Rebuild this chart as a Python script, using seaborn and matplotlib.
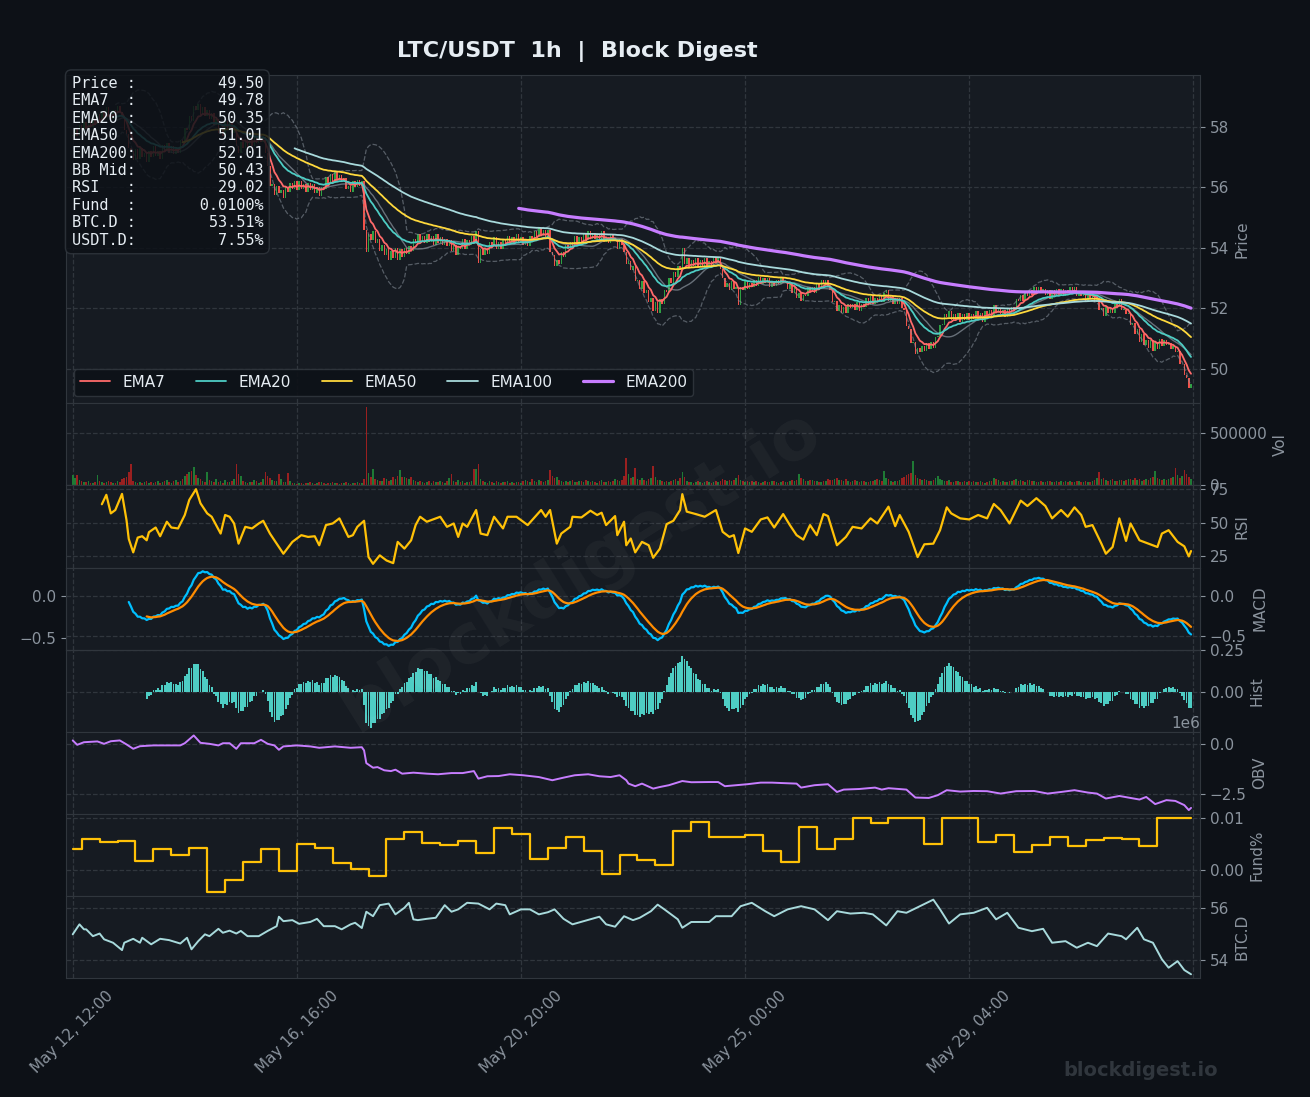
import numpy as np
import pandas as pd
import matplotlib
matplotlib.use("Agg")
import matplotlib.pyplot as plt
import seaborn as sns

# ---------------- data ----------------
start_time = "2025-05-12 12:00"

# hourly closes, 500 candles
close = [
    57.70, 57.95, 57.68, 58.05, 57.90, 58.15, 57.92, 58.20, 58.00, 58.25,
    58.10, 58.42, 58.15, 58.50, 58.30, 58.65, 58.40, 58.25, 58.55, 58.50,
    58.70, 58.50, 58.35, 57.90, 57.75, 57.30, 57.20, 56.90, 57.25, 56.95,
    57.30, 57.00, 57.15, 56.85, 57.20, 57.00, 57.35, 57.05, 57.20, 56.95,
    57.40, 57.20, 57.45, 57.15, 57.35, 57.10, 57.30, 57.15, 57.55, 57.45,
    57.95, 57.90, 58.35, 58.20, 58.70, 58.55, 58.75, 58.40, 58.65, 58.35,
    58.55, 58.25, 58.45, 58.05, 58.25, 57.80, 57.95, 57.70, 58.20, 57.90,
    58.15, 57.80, 57.95, 57.35, 57.15, 57.50, 57.30, 57.60, 57.25, 57.65,
    57.35, 57.70, 57.45, 57.75, 57.50, 57.65, 57.15, 56.70, 56.05, 56.10,
    55.75, 56.05, 55.80, 55.90, 55.65, 56.00, 55.85, 56.15, 55.95, 56.20,
    55.90, 56.20, 55.95, 56.10, 55.85, 56.15, 55.90, 56.10, 55.80, 56.00,
    55.70, 56.00, 55.95, 56.35, 56.10, 56.45, 56.15, 56.50, 56.25, 56.40,
    56.20, 56.30, 55.95, 56.05, 55.85, 56.20, 56.00, 56.25, 56.05, 56.20,
    54.60, 53.85, 54.45, 54.25, 54.55, 54.15, 54.30, 53.90, 54.10, 53.75,
    53.95, 53.60, 53.90, 53.65, 54.00, 53.60, 53.95, 53.70, 54.00, 53.80,
    54.05, 53.90, 54.30, 54.15, 54.45, 54.20, 54.40, 54.15, 54.45, 54.20,
    54.40, 54.10, 54.45, 54.15, 54.35, 54.10, 54.30, 54.05, 54.25, 53.90,
    54.10, 53.75, 54.05, 53.95, 54.30, 53.95, 54.25, 54.10, 54.40, 54.20,
    54.55, 53.50, 53.95, 53.75, 54.00, 53.80, 54.20, 54.05, 54.35, 53.95,
    54.20, 53.95, 54.25, 54.10, 54.40, 54.15, 54.35, 54.15, 54.45, 54.20,
    54.35, 54.10, 54.30, 54.05, 54.40, 54.25, 54.55, 54.35, 54.65, 54.40,
    54.60, 54.35, 54.60, 53.85, 53.75, 53.40, 53.60, 53.45, 53.85, 53.70,
    54.10, 53.95, 54.20, 54.05, 54.40, 54.10, 54.35, 54.20, 54.45, 54.25,
    54.55, 54.30, 54.50, 54.30, 54.45, 54.25, 54.55, 54.20, 54.35, 54.15,
    54.45, 54.25, 54.30, 53.95, 54.30, 54.10, 53.85, 53.45, 53.55, 53.25,
    53.40, 52.90, 52.95, 52.65, 52.90, 52.50, 52.60, 52.20, 52.35, 51.90,
    52.20, 51.85, 52.30, 52.15, 52.60, 52.55, 53.00, 52.85, 53.20, 53.05,
    53.40, 53.30, 54.00, 53.45, 53.65, 53.35, 53.60, 53.40, 53.65, 53.35,
    53.60, 53.40, 53.65, 53.35, 53.55, 53.40, 53.70, 53.50, 53.70, 53.30,
    53.00, 52.70, 52.85, 52.60, 52.90, 52.65, 52.70, 52.10, 52.70, 52.60,
    52.90, 52.65, 52.85, 52.70, 52.95, 52.75, 53.05, 52.80, 53.00, 52.85,
    53.00, 52.70, 52.90, 52.75, 52.95, 52.80, 53.05, 52.85, 52.90, 52.65,
    52.85, 52.50, 52.70, 52.35, 52.50, 52.25, 52.45, 52.40, 52.70, 52.55,
    52.70, 52.50, 52.80, 52.65, 52.95, 52.80, 52.95, 52.75, 52.60, 52.20,
    52.25, 51.90, 52.10, 51.85, 52.05, 51.85, 52.15, 52.00, 52.15, 51.95,
    52.20, 51.90, 52.15, 52.05, 52.35, 52.10, 52.40, 52.15, 52.35, 52.20,
    52.45, 52.20, 52.50, 52.60, 52.25, 52.40, 52.15, 52.35, 52.15, 52.35,
    52.00, 51.95, 51.40, 51.30, 50.85, 50.90, 50.50, 50.70, 50.55, 50.75,
    50.60, 50.85, 50.65, 50.90, 50.70, 51.05, 51.10, 51.45, 51.45, 51.80,
    51.70, 51.90, 51.60, 51.80, 51.60, 51.85, 51.55, 51.80, 51.60, 51.85,
    51.60, 51.80, 51.65, 51.90, 51.60, 51.85, 51.55, 51.90, 51.75, 51.95,
    51.75, 52.10, 51.85, 52.00, 51.80, 51.95, 51.70, 52.00, 51.80, 52.05,
    51.95, 52.30, 52.25, 52.45, 52.25, 52.50, 52.40, 52.60, 52.45, 52.70,
    52.55, 52.70, 52.50, 52.65, 52.45, 52.60, 52.30, 52.60, 52.40, 52.65,
    52.40, 52.65, 52.40, 52.60, 52.50, 52.70, 52.50, 52.70, 52.40, 52.55,
    52.40, 52.55, 52.25, 52.50, 52.35, 52.45, 52.20, 52.35, 51.95, 52.00,
    51.75, 52.05, 51.85, 52.00, 51.85, 52.20, 52.05, 52.30, 51.95, 51.95,
    51.80, 51.85, 51.45, 51.50, 51.15, 51.30, 50.90, 51.15, 50.80, 50.95,
    50.70, 50.95, 50.60, 50.90, 50.65, 51.00, 50.75, 50.95, 50.80, 50.85,
    50.65, 50.75, 50.55, 50.60, 50.15, 50.15, 49.80, 49.70, 49.35, 49.50,
]

# hourly volume, thousands of LTC
volume_k = [
    100, 70, 95, 55, 45, 35, 30, 40, 25, 20, 30, 100, 40, 30, 25, 35, 45, 30, 25, 20,
    40, 30, 60, 75, 80, 125, 205, 40, 30, 25, 35, 20, 30, 45, 25, 30, 20, 35, 40, 25,
    30, 45, 50, 35, 25, 40, 55, 30, 40, 60, 90, 110, 125, 140, 180, 100, 70, 60, 40, 35,
    130, 50, 40, 35, 60, 30, 45, 25, 50, 30, 35, 40, 60, 205, 110, 90, 45, 30, 25, 35,
    30, 55, 40, 25, 35, 60, 125, 90, 70, 50, 45, 40, 110, 60, 35, 30, 120, 45, 25, 20,
    15, 20, 25, 15, 20, 25, 30, 20, 15, 25, 30, 35, 20, 15, 25, 20, 30, 25, 20, 15,
    20, 25, 30, 20, 15, 20, 25, 30, 20, 25, 60, 745, 120, 80, 155, 60, 50, 40, 45, 70,
    60, 45, 55, 80, 65, 90, 150, 85, 80, 75, 60, 85, 55, 45, 30, 40, 35, 25, 30, 40,
    25, 40, 35, 30, 45, 30, 25, 40, 70, 110, 45, 35, 50, 30, 40, 25, 35, 30, 45, 160,
    160, 205, 60, 45, 30, 25, 40, 35, 25, 40, 30, 25, 35, 30, 40, 20, 30, 25, 35, 30,
    25, 40, 55, 45, 30, 60, 45, 35, 50, 40, 30, 45, 55, 150, 90, 70, 85, 50, 40, 35,
    45, 30, 40, 55, 35, 30, 40, 45, 35, 50, 40, 35, 45, 30, 25, 40, 55, 35, 30, 40,
    35, 45, 60, 50, 40, 55, 90, 260, 110, 70, 85, 165, 60, 55, 75, 50, 45, 60, 70, 190,
    80, 55, 50, 45, 35, 40, 30, 45, 50, 60, 45, 70, 130, 85, 40, 30, 35, 25, 30, 40,
    30, 25, 35, 40, 30, 25, 35, 40, 30, 45, 65, 50, 40, 55, 45, 50, 70, 95, 55, 40,
    35, 40, 30, 45, 35, 40, 30, 25, 35, 40, 30, 35, 40, 45, 30, 25, 35, 40, 30, 35,
    40, 55, 45, 50, 110, 70, 60, 45, 40, 55, 50, 45, 40, 35, 30, 40, 45, 60, 50, 55,
    60, 70, 55, 50, 45, 60, 40, 35, 45, 55, 40, 35, 45, 40, 30, 35, 45, 40, 55, 60,
    50, 45, 135, 70, 60, 40, 35, 45, 40, 55, 70, 80, 95, 105, 120, 230, 100, 70, 60, 50,
    65, 55, 45, 40, 50, 70, 90, 65, 55, 45, 40, 50, 35, 30, 45, 40, 30, 35, 40, 30,
    45, 35, 40, 30, 35, 40, 30, 25, 35, 45, 40, 75, 60, 50, 35, 40, 30, 35, 45, 40,
    55, 60, 45, 50, 40, 35, 50, 55, 45, 40, 35, 30, 40, 35, 30, 45, 40, 35, 30, 40,
    35, 40, 30, 45, 35, 40, 30, 35, 40, 45, 30, 35, 40, 30, 35, 45, 50, 70, 130, 60,
    75, 55, 45, 50, 60, 45, 40, 55, 50, 45, 55, 60, 65, 50, 70, 55, 60, 45, 50, 65,
    55, 70, 85, 140, 75, 60, 55, 65, 50, 60, 75, 80, 170, 95, 70, 90, 150, 110, 85, 60,
]

# RSI(14) points (hour index, value)
rsi_hours = [13, 15, 17, 19, 22, 24, 25, 27, 29, 31, 33, 34, 37, 39, 42, 44, 47, 50, 52, 55,
             57, 60, 62, 66, 68, 70, 72, 74, 77, 80, 83, 85, 88, 92, 94, 98, 102, 105, 108, 110,
             113, 116, 119, 123, 125, 127, 130, 132, 134, 137, 140, 143, 145, 148, 151, 153, 155, 158, 162, 164,
             167, 170, 172, 174, 176, 180, 182, 185, 188, 192, 194, 198, 203, 207, 209, 211, 213, 216, 218, 222,
             223, 227, 231, 234, 236, 238, 242, 243, 246, 247, 249, 251, 254, 257, 259, 262, 265, 268, 271, 272,
             274, 278, 282, 287, 290, 293, 295, 297, 300, 303, 307, 310, 313, 317, 320, 323, 326, 329, 332, 335,
             337, 341, 345, 348, 352, 356, 359, 364, 367, 369, 373, 377, 380, 384, 387, 390, 392, 396, 400, 404,
             408, 411, 414, 418, 423, 426, 430, 434, 437, 441, 444, 447, 450, 452, 455, 459, 461, 464, 467, 470,
             472, 476, 480, 484, 486, 489, 493, 496, 498, 499]
rsi_vals = [63.8, 70.8, 57.0, 59.5, 71.5, 52.0, 38.0, 28.0, 39.0, 40.0, 37.0, 43.0, 46.5, 40.0, 50.8, 46.5, 45.8, 55.8, 67.0, 75.0,
            64.5, 57.0, 54.5, 42.0, 55.8, 54.5, 49.5, 34.5, 47.0, 45.8, 49.5, 51.5, 42.0, 32.0, 27.0, 35.8, 40.8, 39.5, 40.0, 33.3,
            48.3, 49.5, 53.3, 39.5, 40.8, 47.0, 51.5, 24.5, 19.5, 25.8, 22.0, 20.0, 35.8, 30.8, 37.0, 48.3, 54.5, 50.8, 53.3, 54.5,
            47.0, 49.5, 39.5, 49.5, 47.0, 59.5, 42.0, 40.8, 54.5, 45.8, 54.5, 54.5, 48.3, 55.8, 59.5, 54.5, 59.5, 34.5, 42.0, 47.0,
            54.5, 54.0, 59.0, 55.8, 57.5, 48.3, 55.0, 40.8, 50.8, 33.3, 38.3, 28.0, 35.8, 33.3, 24.0, 30.8, 49.0, 51.5, 59.5, 71.3,
            58.3, 56.5, 54.5, 59.5, 43.3, 39.5, 40.8, 27.5, 45.8, 43.3, 52.5, 54.0, 46.5, 56.5, 48.3, 40.8, 37.5, 48.3, 40.8, 56.5,
            55.0, 33.3, 39.5, 47.0, 45.8, 53.3, 49.5, 62.0, 47.5, 55.8, 43.3, 24.5, 34.0, 34.5, 44.5, 61.5, 57.0, 53.3, 52.5, 55.8,
            53.3, 64.0, 59.5, 49.5, 66.5, 62.5, 68.3, 62.5, 53.3, 59.5, 54.5, 61.5, 55.8, 47.0, 48.3, 34.5, 27.0, 32.0, 53.3, 36.5,
            49.5, 37.0, 34.5, 32.0, 42.0, 44.5, 35.8, 32.5, 25.0, 29.0]

# OBV points (hour index, millions)
obv_hours = [0, 2, 5, 11, 14, 17, 21, 24, 27, 30, 36, 43, 48, 50, 54, 57, 61, 65, 67, 70,
             73, 75, 81, 84, 87, 90, 92, 94, 100, 106, 110, 117, 124, 129, 130, 131, 134, 136, 139, 142,
             144, 147, 152, 158, 163, 169, 174, 179, 181, 185, 190, 195, 201, 208, 214, 219, 224, 230, 235, 240,
             244, 247, 248, 251, 254, 259, 262, 266, 272, 276, 284, 288, 291, 296, 301, 307, 312, 316, 323, 325,
             331, 337, 341, 344, 351, 358, 361, 364, 372, 376, 382, 386, 390, 396, 402, 408, 414, 421, 429, 435,
             441, 447, 453, 457, 461, 467, 472, 476, 479, 483, 488, 492, 496, 498, 499]
obv_m = [0.17, -0.05, 0.08, 0.12, 0.00, 0.13, 0.17, -0.03, -0.25, -0.12, -0.08, -0.08, -0.08, 0.03, 0.42, 0.05, 0.00, -0.08, 0.03, 0.03,
         -0.25, 0.03, 0.03, 0.20, 0.00, -0.08, -0.30, -0.13, -0.08, -0.13, -0.20, -0.13, -0.20, -0.17, -0.33, -0.97, -1.20, -1.17, -1.33, -1.37,
         -1.30, -1.50, -1.45, -1.50, -1.53, -1.47, -1.47, -1.37, -1.75, -1.63, -1.62, -1.53, -1.58, -1.67, -1.83, -1.70, -1.58, -1.53, -1.63, -1.67,
         -1.58, -1.83, -2.00, -2.13, -2.00, -2.25, -2.17, -2.08, -1.87, -1.93, -1.92, -1.92, -2.13, -2.08, -2.03, -1.95, -1.95, -1.97, -2.00, -2.20,
         -2.08, -2.03, -2.42, -2.30, -2.27, -2.20, -2.30, -2.23, -2.30, -2.70, -2.72, -2.58, -2.33, -2.40, -2.37, -2.38, -2.50, -2.38, -2.37, -2.50,
         -2.42, -2.33, -2.45, -2.50, -2.75, -2.62, -2.72, -2.80, -2.67, -3.03, -2.83, -2.87, -3.08, -3.33, -3.22]

# BTC dominance points (hour index, %)
btcd_hours = [0, 3, 5, 6, 9, 12, 14, 18, 22, 23, 27, 30, 31, 35, 39, 43, 48, 51, 53, 56,
              59, 61, 65, 67, 70, 73, 75, 78, 83, 87, 91, 92, 94, 98, 101, 106, 109, 112, 117, 120,
              124, 126, 129, 131, 134, 137, 141, 144, 148, 150, 152, 154, 158, 162, 166, 169, 172, 176, 181, 186,
              189, 193, 195, 200, 204, 208, 212, 215, 219, 223, 228, 231, 235, 238, 242, 246, 250, 253, 258, 261,
              264, 270, 272, 276, 284, 287, 294, 298, 303, 309, 313, 319, 325, 331, 337, 341, 347, 353, 357, 363,
              368, 372, 378, 384, 387, 391, 396, 402, 408, 412, 417, 422, 428, 433, 437, 443, 448, 453, 457, 462,
              468, 470, 475, 478, 482, 486, 489, 493, 496, 499]
btcd_vals = [54.99, 55.37, 55.18, 55.18, 54.92, 55.02, 54.80, 54.67, 54.39, 54.67, 54.82, 54.67, 54.86, 54.61, 54.82, 54.77, 54.64, 54.86, 54.42, 54.73,
             54.99, 54.92, 55.20, 55.05, 55.13, 55.02, 55.12, 54.92, 54.92, 55.12, 55.30, 55.66, 55.49, 55.53, 55.39, 55.46, 55.58, 55.30, 55.30, 55.18,
             55.37, 55.43, 55.23, 55.85, 55.68, 56.10, 56.16, 55.75, 56.00, 56.19, 55.56, 55.53, 55.58, 55.62, 56.10, 55.85, 55.94, 56.19, 56.16, 55.94,
             56.16, 56.10, 55.75, 55.94, 55.94, 55.75, 55.83, 55.94, 55.58, 55.37, 55.49, 55.56, 55.66, 55.37, 55.28, 55.68, 55.53, 55.62, 55.87, 56.12,
             55.94, 55.56, 55.24, 55.46, 55.46, 55.68, 55.68, 56.06, 56.19, 55.87, 55.68, 55.94, 56.06, 55.94, 55.53, 55.87, 55.78, 55.81, 55.75, 55.33,
             55.87, 55.81, 56.06, 56.31, 55.94, 55.40, 55.75, 55.81, 56.00, 55.56, 55.81, 55.24, 55.11, 55.20, 54.67, 54.73, 54.48, 54.67, 54.54, 55.02,
             54.92, 54.80, 55.24, 54.80, 54.67, 54.04, 53.72, 53.97, 53.63, 53.47]

# funding rate (%), stepping every 8h (first value holds until hour 4)
fund_hours = [0] + list(range(4, 500, 8)) + [499]
fund_vals = [0.0040,
             0.0059, 0.0054, 0.0055, 0.0017, 0.0040, 0.0029, 0.0042, -0.0043, -0.0019, 0.0015,
             0.0040, -0.0003, 0.0050, 0.0041, 0.0012, 0.0001, -0.0012, 0.0059, 0.0072, 0.0052,
             0.0048, 0.0056, 0.0033, 0.0080, 0.0069, 0.0020, 0.0041, 0.0062, 0.0036, -0.0008,
             0.0029, 0.0019, 0.0010, 0.0075, 0.0091, 0.0063, 0.0063, 0.0066, 0.0035, 0.0014,
             0.0081, 0.0040, 0.0059, 0.0100, 0.0089, 0.0099, 0.0100, 0.0050, 0.0100, 0.0100,
             0.0053, 0.0067, 0.0034, 0.0048, 0.0063, 0.0045, 0.0057, 0.0061, 0.0058, 0.0045,
             0.0100, 0.0100,
             0.0100]

info_keys = ["Price", "EMA7", "EMA20", "EMA50", "EMA200", "BB Mid", "RSI", "Fund", "BTC.D", "USDT.D"]
info_vals = ["49.50", "49.78", "50.35", "51.01", "52.01", "50.43", "29.02", "0.0100%", "53.51%", "7.55%"]

# ---------------- colours ----------------
BG = "#0d1117"
PANEL = "#161b22"
EDGE = "#30363d"
TEXT = "#e6edf3"
DIM = "#8b949e"
UP = "#2ea043"
DOWN = "#f0524a"
VOL_UP = "#1f7a35"
VOL_DOWN = "#9a2020"
ema_colors = {"EMA7": "#ff6b6b", "EMA20": "#4ecdc4", "EMA50": "#ffd93d",
              "EMA100": "#a8dadc", "EMA200": "#c77dff"}

sns.set_style("dark", {"axes.facecolor": PANEL, "figure.facecolor": BG})

# ---------------- derived series ----------------
n = len(close)
hours = np.arange(n)
c = pd.Series(close, dtype=float)
opens = c.shift(1).fillna(c.iloc[0])
up = (c >= opens).values
vol = np.array(volume_k) * 1000

emas = {}
for span in [7, 20, 50, 100, 200]:
    emas[f"EMA{span}"] = c.ewm(span=span, min_periods=span).mean()
bb_mid = c.rolling(20).mean()
bb_std = c.rolling(20).std()
bb_up = bb_mid + 2 * bb_std
bb_lo = bb_mid - 2 * bb_std

ema12 = c.ewm(span=12, min_periods=12).mean()
ema26 = c.ewm(span=26, min_periods=26).mean()
macd = ema12 - ema26
signal = macd.ewm(span=9, min_periods=9).mean()
hist = macd - signal

times = pd.date_range(start_time, periods=n, freq="h")

# ---------------- figure ----------------
fig = plt.figure(figsize=(13.1, 10.97), dpi=100)
fig.patch.set_facecolor(BG)
gs = fig.add_gridspec(8, 1, height_ratios=[4, 1, 1, 1, 1, 1, 1, 1], hspace=0,
                      left=66 / 1310, right=1200 / 1310,
                      top=1 - 75 / 1097, bottom=1 - 978 / 1097)
axes = [fig.add_subplot(gs[0])]
for i in range(1, 8):
    axes.append(fig.add_subplot(gs[i], sharex=axes[0]))
ax_p, ax_v, ax_r, ax_m, ax_h, ax_o, ax_f, ax_b = axes

# MACD panel also carries a left-hand scale
ax_m2 = ax_m.twinx()

for ax in axes:
    ax.set_facecolor(PANEL)
    ax.grid(True, color=EDGE, linestyle="--", linewidth=0.9)
    ax.yaxis.tick_right()
    ax.yaxis.set_label_position("right")
    ax.tick_params(axis="both", colors=DIM, labelsize=11)
    ax.tick_params(axis="x", labelbottom=False, length=0)
    for s in ax.spines.values():
        s.set_color(EDGE)

# price panel: candles, bollinger bands, emas
ax_p.use_sticky_edges = False
body_lo = np.minimum(opens.values, c.values)
body_h = np.maximum(np.abs(c.values - opens.values), 0.02)
ax_p.bar(hours, body_h, bottom=body_lo, width=0.65,
         color=np.where(up, UP, DOWN), linewidth=0, zorder=2)
ax_p.plot(hours, bb_up, color=DIM, lw=0.9, ls="--", alpha=0.55, zorder=3)
ax_p.plot(hours, bb_lo, color=DIM, lw=0.9, ls="--", alpha=0.55, zorder=3)
ax_p.plot(hours, bb_mid, color=DIM, lw=1.0, alpha=0.7, zorder=3)
for name, series in emas.items():
    d = pd.DataFrame({"h": hours, "v": series}).dropna()
    sns.lineplot(data=d, x="h", y="v", ax=ax_p, color=ema_colors[name],
                 lw=2.3 if name == "EMA200" else 1.3, label=name, zorder=4)
ax_p.set_xlabel("")
ax_p.set_ylabel("Price", color=DIM, fontsize=11)
ax_p.legend(loc="lower left", ncol=5, fontsize=11, facecolor=BG,
            edgecolor=EDGE, framealpha=0.9, labelcolor=TEXT)

# volume
ax_v.bar(hours, vol, width=0.7, color=np.where(up, VOL_UP, VOL_DOWN), linewidth=0)
ax_v.set_ylabel("Vol", color=DIM, fontsize=11)

# RSI
sns.lineplot(x=rsi_hours, y=rsi_vals, ax=ax_r, color="#ffc107", lw=1.6)
ax_r.set_ylabel("RSI", color=DIM, fontsize=11)

# MACD
dm = pd.DataFrame({"h": hours, "macd": macd, "sig": signal}).dropna(subset=["macd"])
sns.lineplot(data=dm, x="h", y="macd", ax=ax_m, color="#00bfff", lw=1.6)
ds = dm.dropna(subset=["sig"])
sns.lineplot(data=ds, x="h", y="sig", ax=ax_m, color="#ff8c00", lw=1.6)
ax_m.set_ylabel("MACD", color=DIM, fontsize=11)
ax_m2.yaxis.tick_left()
ax_m2.set_ylim(-0.642, 0.339)
ax_m2.set_yticks([-0.5, 0.0])
ax_m2.tick_params(axis="y", colors=DIM, labelsize=11)
ax_m2.grid(False)
for s in ax_m2.spines.values():
    s.set_color(EDGE)

# MACD histogram
dh = pd.DataFrame({"h": hours, "hist": hist}).dropna()
ax_h.bar(dh["h"], dh["hist"], width=0.8, color="#4ecdc4", linewidth=0)
ax_h.set_ylim(-0.238, 0.25)
ax_h.set_ylabel("Hist", color=DIM, fontsize=11)

# OBV
sns.lineplot(x=obv_hours, y=np.array(obv_m) * 1e6, ax=ax_o, color="#c77dff", lw=1.4)
ax_o.set_ylabel("OBV", color=DIM, fontsize=11)
ax_o.yaxis.get_offset_text().set_color(DIM)
ax_o.yaxis.get_offset_text().set_fontsize(11)

# funding
sns.lineplot(x=fund_hours, y=fund_vals, ax=ax_f, color="#ffc107", lw=1.6,
             drawstyle="steps-post")
ax_f.set_ylabel("Fund%", color=DIM, fontsize=11)

# BTC dominance
sns.lineplot(x=btcd_hours, y=btcd_vals, ax=ax_b, color="#a8dadc", lw=1.4)
ax_b.set_ylabel("BTC.D", color=DIM, fontsize=11)

for ax in axes[1:]:
    ax.set_xlabel("")
    if ax.get_legend() is not None:
        ax.get_legend().remove()

# x axis: index based, labels every 100 candles
ax_p.set_xlim(-3, n + 3)
ticks = list(range(0, n + 1, 100))
labels = [times[t].strftime("%b %d, %H:%M") if t < n else "" for t in ticks]
ax_b.set_xticks(ticks)
ax_b.set_xticklabels(labels)
ax_b.tick_params(axis="x", labelbottom=True, length=4, labelrotation=45,
                 colors=DIM, labelsize=11)
ax_b.set_xlabel("")

# titles, info box, watermarks
fig.text(0.441, 1 - 52 / 1097, "LTC/USDT  1h  |  Block Digest", ha="center",
         va="center", fontsize=16, fontweight="bold", color=TEXT)
info = "\n".join(f"{k:<6}:{v:>14}" for k, v in zip(info_keys, info_vals))
fig.text(71.5 / 1310, 1 - 76 / 1097, info, ha="left", va="top",
         family="DejaVu Sans Mono", fontsize=11, color=TEXT, linespacing=1.2,
         bbox=dict(boxstyle="round,pad=0.4", facecolor=BG, edgecolor=EDGE, alpha=0.85))
fig.text(0.443, 0.48, "blockdigest.io", ha="center", va="center", fontsize=50,
         fontweight="bold", color="white", alpha=0.04, rotation=32)
fig.text(0.93, 1 - 1071 / 1097, "blockdigest.io", ha="right", va="center",
         fontsize=14, fontweight="bold", color=EDGE)

fig.savefig("out.png", dpi=100, facecolor=BG)
